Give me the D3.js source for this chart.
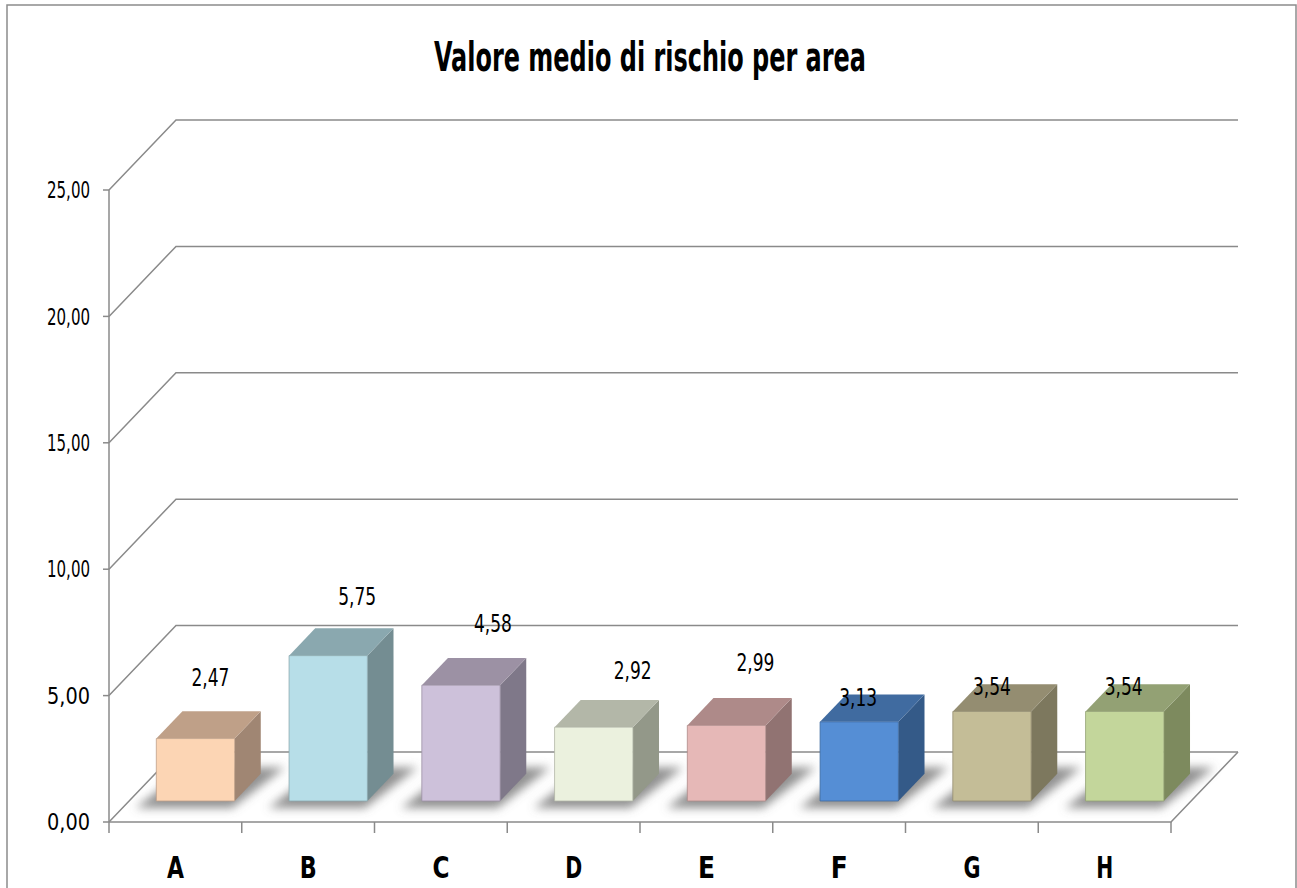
<!DOCTYPE html>
<html>
<head>
<meta charset="utf-8">
<script src="https://cdn.jsdelivr.net/npm/d3@7"></script>
<style>
  body { margin: 0; background: #fff; }
  svg { display: block; }
  text { font-family: "Liberation Sans Narrow", "DejaVu Sans Condensed", "Arial Narrow", sans-serif; fill: #000; }
</style>
</head>
<body>
<div id="chart"></div>
<script>
const categories = ["A", "B", "C", "D", "E", "F", "G", "H"];
const values = [2.47, 5.75, 4.58, 2.92, 2.99, 3.13, 3.54, 3.54];
const yTicks = [0, 5, 10, 15, 20, 25];

// face colours per bar: front, top, side
const frontColors = ["#fcd5b4", "#b7dee8", "#cdc1da", "#ebf1de", "#e6b8b7", "#558ed5", "#c4bd97", "#c3d69b"];
const topColors   = ["#bfa088", "#8aa8af", "#9c91a4", "#b3b7a8", "#ae8a89", "#406ba0", "#948d71", "#93a174"];
const sideColors  = ["#a08673", "#748d92", "#7f7889", "#939889", "#917372", "#345a88", "#7d785e", "#7d8a5e"];

// Excel puts the data labels oddly in 3D, nudge from the bar's front-top centre
const labelNudge = [[15, -62], [29, -60], [32, -62], [39, -57], [29, -63], [-1, -25], [0, -26], [-1, -26]];

const width = 1297, height = 888;
const DX = 67, DY = 70;          // depth of the 3D box in screen px
const zFront = 0.3, zBack = 0.69; // bar depth inside the box

const svg = d3.select("#chart").append("svg")
  .attr("width", width)
  .attr("height", height);

const x = d3.scaleBand()
  .domain(categories)
  .range([109, 1171])
  .paddingInner(0.41)
  .paddingOuter(0.205);

const y = d3.scaleLinear()
  .domain([0, 25])
  .range([822, 190]);

const proj = (px, v, z) => [px + DX * z, y(v) - DY * z];
const poly = pts => pts.map(p => p.join(",")).join(" ");

const defs = svg.append("defs");
defs.append("filter")
    .attr("id", "blur")
    .attr("x", "-50%").attr("y", "-50%")
    .attr("width", "200%").attr("height", "200%")
  .append("feGaussianBlur")
    .attr("stdDeviation", 5);

// outer frame
svg.append("rect")
  .attr("x", 7).attr("y", 5)
  .attr("width", 1289).attr("height", 900)
  .attr("fill", "none")
  .attr("stroke", "#8c8c8c")
  .attr("stroke-width", 1.5);

svg.append("text")
  .attr("x", 650)
  .attr("y", 71)
  .attr("text-anchor", "middle")
  .attr("font-size", 40)
  .attr("font-weight", "bold")
  .attr("textLength", 432)
  .attr("lengthAdjust", "spacingAndGlyphs")
  .text("Valore medio di rischio per area");

const [xL, xR] = x.range();
const gridColor = "#8a8a8a";

// back wall gridlines (side diagonal + back horizontal)
svg.append("g").selectAll("path")
  .data(yTicks)
  .join("path")
    .attr("d", v => {
      const a = proj(xL, v, 0), b = proj(xL, v, 1), c = proj(xR, v, 1);
      return `M${a}L${b}L${c}`;
    })
    .attr("fill", "none")
    .attr("stroke", gridColor)
    .attr("stroke-width", 1.5);

// floor: front edge and right edge
const f0 = proj(xL, 0, 0), f1 = proj(xR, 0, 0), f2 = proj(xR, 0, 1);
svg.append("path")
  .attr("d", `M${f0}L${f1}L${f2}`)
  .attr("fill", "none")
  .attr("stroke", gridColor)
  .attr("stroke-width", 1.5);

// vertical value axis
svg.append("line")
  .attr("x1", xL).attr("x2", xL)
  .attr("y1", y(25)).attr("y2", y(0))
  .attr("stroke", gridColor)
  .attr("stroke-width", 1.5);

const yAxis = svg.append("g");
yAxis.selectAll("line")
  .data(yTicks)
  .join("line")
    .attr("x1", xL - 6).attr("x2", xL)
    .attr("y1", d => y(d)).attr("y2", d => y(d))
    .attr("stroke", gridColor)
    .attr("stroke-width", 1.5);
yAxis.selectAll("text")
  .data(yTicks)
  .join("text")
    .attr("x", xL - 19)
    .attr("y", d => y(d))
    .attr("dy", "0.36em")
    .attr("text-anchor", "end")
    .attr("font-size", 23)
    .attr("textLength", 43)
    .attr("lengthAdjust", "spacingAndGlyphs")
    .text(d => d.toFixed(2).replace(".", ","));

// category ticks at band boundaries
const step = x.step();
svg.append("g").selectAll("line")
  .data(d3.range(categories.length + 1))
  .join("line")
    .attr("x1", i => xL + i * step).attr("x2", i => xL + i * step)
    .attr("y1", y(0)).attr("y2", y(0) + 11)
    .attr("stroke", gridColor)
    .attr("stroke-width", 1.5);

svg.append("g").selectAll("text")
  .data(categories)
  .join("text")
    .attr("x", d => x(d) + x.bandwidth() / 2)
    .attr("y", 878)
    .attr("text-anchor", "middle")
    .attr("font-size", 30)
    .attr("font-weight", "bold")
    .attr("textLength", 17)
    .attr("lengthAdjust", "spacingAndGlyphs")
    .text(d => d);

const bars = categories.map((c, i) => ({ c, v: values[i], i }));

// soft shadows on the floor
svg.append("g")
  .attr("filter", "url(#blur)")
  .selectAll("polygon")
  .data(bars)
  .join("polygon")
    .attr("points", d => {
      const x0 = x(d.c) - 14, x1 = x(d.c) + x.bandwidth() + 4;
      return poly([proj(x0, 0, 0.2), proj(x1, 0, 0.2), proj(x1 + 14, 0, 0.78), proj(x0 + 14, 0, 0.78)]);
    })
    .attr("fill", "#6e6e6e")
    .attr("opacity", 0.75);

const barG = svg.append("g").selectAll("g")
  .data(bars)
  .join("g");

barG.append("polygon")
  .attr("points", d => {
    const x0 = x(d.c), x1 = x0 + x.bandwidth();
    return poly([proj(x1, 0, zFront), proj(x1, 0, zBack), proj(x1, d.v, zBack), proj(x1, d.v, zFront)]);
  })
  .attr("fill", d => sideColors[d.i]);

barG.append("polygon")
  .attr("points", d => {
    const x0 = x(d.c), x1 = x0 + x.bandwidth();
    return poly([proj(x0, d.v, zFront), proj(x1, d.v, zFront), proj(x1, d.v, zBack), proj(x0, d.v, zBack)]);
  })
  .attr("fill", d => topColors[d.i]);

barG.append("polygon")
  .attr("points", d => {
    const x0 = x(d.c), x1 = x0 + x.bandwidth();
    return poly([proj(x0, 0, zFront), proj(x1, 0, zFront), proj(x1, d.v, zFront), proj(x0, d.v, zFront)]);
  })
  .attr("fill", d => frontColors[d.i])
  .attr("stroke", d => topColors[d.i])
  .attr("stroke-width", 0.8);

// data labels
svg.append("g").selectAll("text")
  .data(bars)
  .join("text")
    .attr("x", d => proj(x(d.c) + x.bandwidth() / 2, d.v, zFront)[0] + labelNudge[d.i][0])
    .attr("y", d => proj(x(d.c) + x.bandwidth() / 2, d.v, zFront)[1] + labelNudge[d.i][1])
    .attr("dy", "0.36em")
    .attr("text-anchor", "middle")
    .attr("font-size", 25)
    .attr("textLength", 38)
    .attr("lengthAdjust", "spacingAndGlyphs")
    .text(d => d.v.toFixed(2).replace(".", ","));
</script>
</body>
</html>
